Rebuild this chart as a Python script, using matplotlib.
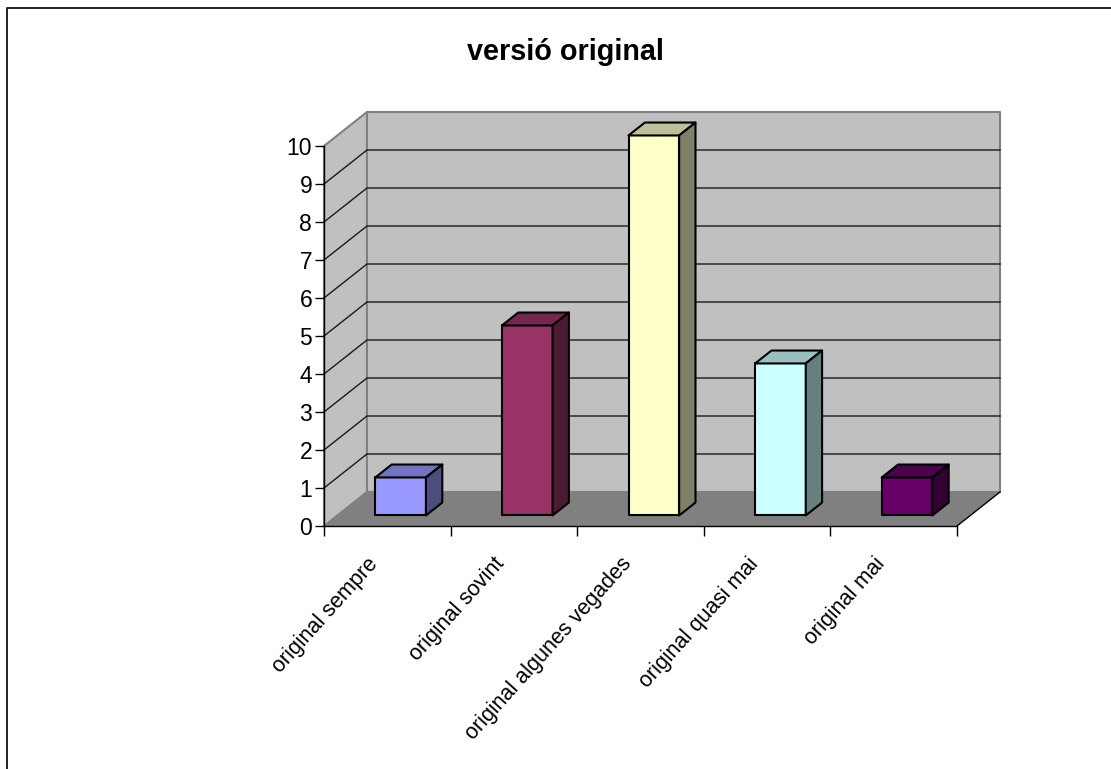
import matplotlib
matplotlib.use('Agg')
import matplotlib.pyplot as plt
from matplotlib.patches import Polygon

plt.rcParams['font.family'] = ['Liberation Sans', 'DejaVu Sans']

categories = ['original sempre', 'original sovint', 'original algunes vegades',
              'original quasi mai', 'original mai']
values = [1, 5, 10, 4, 1]
front_colors = ['#9999FF', '#993366', '#FFFFCC', '#CCFFFF', '#660066']
top_colors = ['#7373BF', '#732650', '#BFBF99', '#99BFBF', '#4D004D']
side_colors = ['#4D4D80', '#4D1A33', '#808066', '#668080', '#330033']

W, H = 1111, 769
fig = plt.figure(figsize=(W / 100, H / 100), dpi=100)

# plot area, pixels measured from top left
left, right, bottom, top = 324, 957, 526, 146
ax = fig.add_axes([left / W, 1 - bottom / H, (right - left) / W, (bottom - top) / H])
ax.set_xlim(0, 5)
ax.set_ylim(0, 10)
ax.patch.set_visible(False)

# depth of the 3d box in data units
depth_x = 43 / ((right - left) / 5)
depth_y = 34 / ((bottom - top) / 10)


def proj(x, y, z):
    return (x + z * depth_x, y + z * depth_y)


def face(points, color, edge, lw, zorder):
    ax.add_patch(Polygon([proj(*p) for p in points], closed=True, facecolor=color,
                         edgecolor=edge, linewidth=lw, zorder=zorder,
                         clip_on=False, joinstyle='round'))


# walls and floor
face([(0, 0, 0), (0, 0, 1), (0, 10, 1), (0, 10, 0)], '#C0C0C0', '#808080', 1.5, 1)
face([(0, 0, 1), (5, 0, 1), (5, 10, 1), (0, 10, 1)], '#C0C0C0', '#808080', 1.5, 1)
face([(0, 0, 0), (5, 0, 0), (5, 0, 1), (0, 0, 1)], '#808080', 'none', 0, 2)

# gridlines run along the side wall and then the back wall
for v in range(1, 10):
    a = proj(0, v, 0)
    b = proj(0, v, 1)
    c = proj(5, v, 1)
    ax.plot([a[0], b[0], c[0]], [a[1], b[1], c[1]], color='#1A1A1A', lw=1.0,
            zorder=2, clip_on=False, solid_joinstyle='miter')

# front right edge of the floor
p0 = proj(5, 0, 0)
p1 = proj(5, 0, 1)
ax.plot([p0[0], p1[0]], [p0[1], p1[1]], color='black', lw=1.0, zorder=3, clip_on=False)

# bars
bar_w = 0.4
z0, z1 = 0.31, 0.69
for i, v in enumerate(values):
    x0 = i + 0.5 - bar_w / 2
    x1 = x0 + bar_w
    zo = 4 + i
    face([(x0, 0, z0), (x1, 0, z0), (x1, v, z0), (x0, v, z0)], front_colors[i], 'black', 1.5, zo)
    face([(x0, v, z0), (x1, v, z0), (x1, v, z1), (x0, v, z1)], top_colors[i], 'black', 1.5, zo)
    face([(x1, 0, z0), (x1, 0, z1), (x1, v, z1), (x1, v, z0)], side_colors[i], 'black', 1.5, zo)

# axes
for s in ['top', 'right']:
    ax.spines[s].set_visible(False)
for s in ['left', 'bottom']:
    ax.spines[s].set_linewidth(1.0)
    ax.spines[s].set_color('black')
    ax.spines[s].set_zorder(3)
ax.set_yticks(range(0, 11))
ax.tick_params(axis='y', length=6.5, width=1.0, labelsize=16.5, pad=2)
ax.set_xticks(range(0, 6))
ax.set_xticklabels([])
ax.tick_params(axis='x', which='major', length=7, width=1.0)
ax.set_xticks([i + 0.34 for i in range(5)], minor=True)
ax.set_xticklabels(categories, minor=True, rotation=48, ha='right', va='top',
                   rotation_mode='anchor', fontsize=15.5)
ax.tick_params(axis='x', which='minor', length=0, pad=20)

fig.text(565 / W, 1 - 52 / H, 'versió original', fontsize=20.7, fontweight='bold',
         ha='center', va='center')

# chart border, open towards the bottom and right of the figure
fig.add_artist(plt.Line2D([7 / W, 7 / W, 1], [0, 1 - 8 / H, 1 - 8 / H],
                          color='#222222', lw=1.4))

fig.savefig('out.png', dpi=100)
